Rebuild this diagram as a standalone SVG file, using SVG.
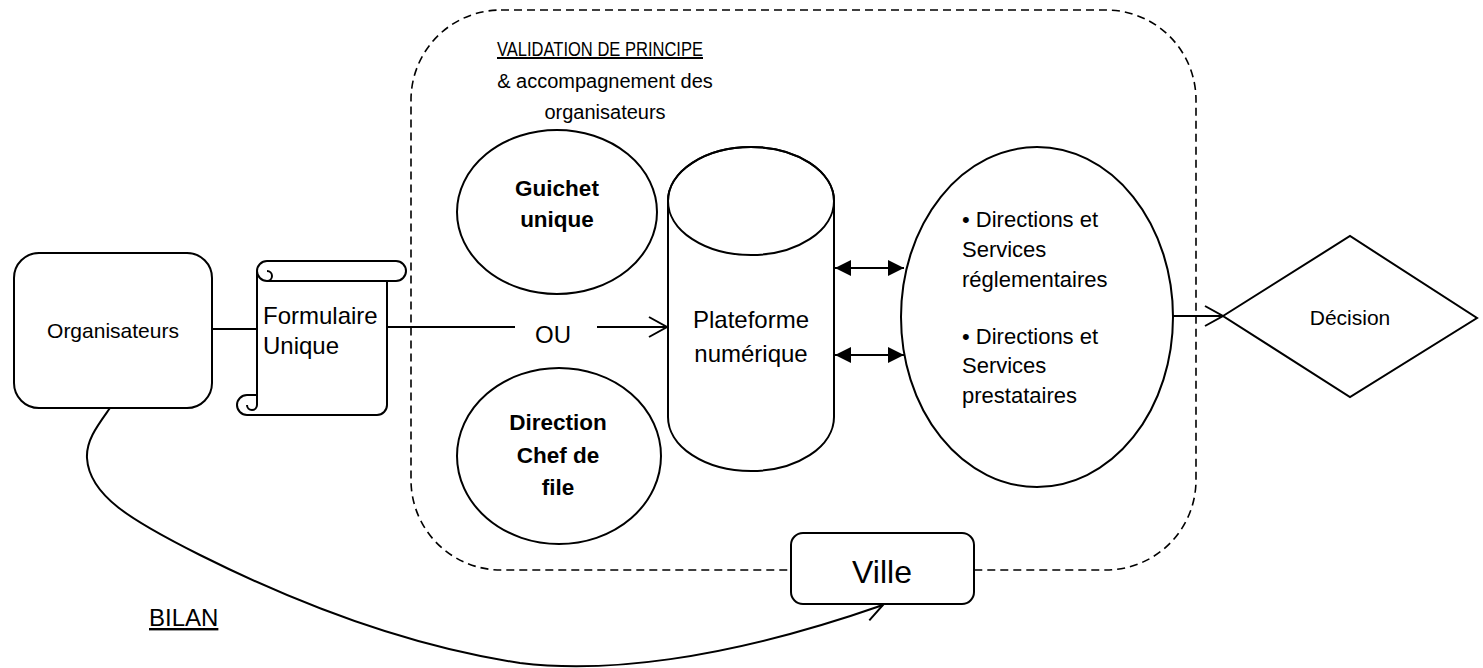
<svg xmlns="http://www.w3.org/2000/svg" width="1483" height="668" viewBox="0 0 1483 668">
<style>
.s{fill:#fff;stroke:#000;stroke-width:2}
.n{fill:none;stroke:#000;stroke-width:2}
.t{font-family:"Liberation Sans",Arial,sans-serif;fill:#000}
.c{text-anchor:middle}
.b{font-weight:bold}
</style>
<defs>
<marker id="open" markerUnits="userSpaceOnUse" markerWidth="22" markerHeight="24" refX="19" refY="11" orient="auto">
<path d="M1,1 L19,11 L1,21" fill="none" stroke="#000" stroke-width="2"/>
</marker>
<marker id="fill" markerUnits="userSpaceOnUse" markerWidth="18" markerHeight="16" refX="16" refY="8" orient="auto-start-reverse">
<path d="M0,0 L16,8 L0,16 Z" fill="#000"/>
</marker>
</defs>
<rect width="1483" height="668" fill="#fff"/>
<g id="zone">
<rect x="411" y="10" width="785" height="560" rx="90" ry="90" fill="none" stroke="#000" stroke-width="1.6" stroke-dasharray="8 5"/>
<text class="t c" x="600" y="56" font-size="20" textLength="206" lengthAdjust="spacingAndGlyphs" text-decoration="underline">VALIDATION DE PRINCIPE</text>
<text class="t c" x="605" y="88" font-size="20">&amp; accompagnement des</text>
<text class="t c" x="605" y="119" font-size="20">organisateurs</text>
</g>
<g id="connectors">
<line class="n" x1="212" y1="329" x2="257" y2="329"/>
<line class="n" x1="387" y1="327" x2="515" y2="327"/>
<line class="n" x1="597" y1="327" x2="667" y2="327" marker-end="url(#open)"/>
<line class="n" x1="835" y1="268" x2="904" y2="268" marker-start="url(#fill)" marker-end="url(#fill)"/>
<line class="n" x1="835" y1="355" x2="904" y2="355" marker-start="url(#fill)" marker-end="url(#fill)"/>
<line class="n" x1="1173" y1="316" x2="1223" y2="316" marker-end="url(#open)"/>
<path class="n" d="M110,408 C98,425 86,440 87,458 C89,495 130,520 200,555 C290,600 400,645 520,663 C600,673 720,662 883,605" marker-end="url(#open)"/>
<text class="t c" x="553" y="343" font-size="24">OU</text>
<text class="t" x="149" y="626" font-size="24" text-decoration="underline">BILAN</text>
</g>
<g id="organisateurs">
<rect class="s" x="14" y="253" width="198" height="155" rx="25"/>
<text class="t c" x="113" y="338" font-size="21">Organisateurs</text>
</g>
<g id="formulaire">
<path class="s" d="M267,261 H396 A10,10 0 0 1 396,281 H387 V405 A10,10 0 0 1 377,415 H247 A10,10 0 0 1 247,395 H257 V271 A10,10 0 0 1 267,261 Z"/>
<path class="n" d="M267,281 H396"/>
<path class="n" d="M267,281 A10,10 0 0 1 257,271"/>
<path class="n" d="M267,271 A5,5 0 0 1 267,281"/>
<path class="n" d="M257,395 V405 A5,5 0 0 1 247,405"/>
<text class="t" x="263" y="324" font-size="24">Formulaire</text>
<text class="t" x="263" y="354" font-size="24">Unique</text>
</g>
<g id="guichet">
<ellipse class="s" cx="557" cy="212" rx="100" ry="82"/>
<text class="t c b" x="557" y="196" font-size="22.5">Guichet</text>
<text class="t c b" x="557" y="227" font-size="22.5">unique</text>
</g>
<g id="direction">
<ellipse class="s" cx="559" cy="456" rx="102" ry="88"/>
<text class="t c b" x="558" y="430" font-size="22.5">Direction</text>
<text class="t c b" x="558" y="463" font-size="22.5">Chef de</text>
<text class="t c b" x="558" y="495" font-size="22.5">file</text>
</g>
<g id="plateforme">
<path class="s" d="M668,201 V417 A83,54 0 0 0 834,417 V201 A83,54 0 0 0 668,201 Z"/>
<ellipse class="n" cx="751" cy="201" rx="83" ry="54"/>
<text class="t c" x="751" y="328" font-size="24">Plateforme</text>
<text class="t c" x="751" y="362" font-size="24">numérique</text>
</g>
<g id="services">
<ellipse class="s" cx="1037" cy="317" rx="136" ry="170"/>
<text class="t" x="962" y="227" font-size="22">• Directions et</text>
<text class="t" x="962" y="257" font-size="22">Services</text>
<text class="t" x="962" y="287" font-size="22">réglementaires</text>
<text class="t" x="962" y="344" font-size="22">• Directions et</text>
<text class="t" x="962" y="373" font-size="22">Services</text>
<text class="t" x="962" y="403" font-size="22">prestataires</text>
</g>
<g id="decision">
<polygon class="s" points="1223,316 1350,236 1477,318 1350,397"/>
<text class="t c" x="1350" y="325" font-size="21">Décision</text>
</g>
<g id="ville">
<rect class="s" x="791" y="533" width="183" height="71" rx="12"/>
<text class="t c" x="882" y="583" font-size="32">Ville</text>
</g>
</svg>
